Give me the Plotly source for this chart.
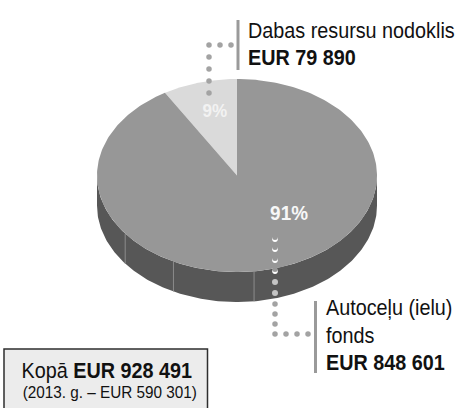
import numpy as np
import plotly.graph_objects as go

# ---- data ----
labels = ["Dabas resursu nodoklis", "Autoceļu (ielu) fonds"]
values = [79890, 848601]
label_lines = [["Dabas resursu nodoklis"], ["Autoceļu (ielu)", "fonds"]]
prior_year = "2013"
prior_total = 590301
top_colors = ["#dadada", "#979797"]
side_color = "#575757"
seam_angles = [173, 207, 233]  # decorative seams on the side wall (deg, clockwise from top)

W, H = 457, 408
cx, cy, a, b, depth = 237, 175.5, 140, 96.5, 30
FONT = "Liberation Sans, Arial, sans-serif"

total = sum(values)


def fmt(v):
    return f"{v:,}".replace(",", " ")


def pt(theta_deg, dy=0.0):
    t = np.radians(theta_deg)
    return cx + a * np.sin(t), cy - b * np.cos(t) + dy


fig = go.Figure()

# side wall (front half of the cylinder)
th = np.linspace(90, 270, 200)
xs_top, ys_top = pt(th)
xs_bot, ys_bot = pt(th[::-1], depth)
fig.add_trace(go.Scatter(x=np.r_[xs_top, xs_bot], y=np.r_[ys_top, ys_bot], fill="toself",
                         fillcolor=side_color, line=dict(width=0), mode="lines", hoverinfo="skip"))
for s in seam_angles:
    x0, y0 = pt(s)
    x1, y1 = pt(s, depth)
    fig.add_trace(go.Scatter(x=[x0, x1], y=[y0, y1], mode="lines",
                             line=dict(color="#8c8c8c", width=1), hoverinfo="skip"))

# top face slices: first slice goes counter-clockwise from 12 o'clock
start = 0.0
for i, v in enumerate(values):
    sweep = 360.0 * v / total
    t0, t1 = start - sweep, start
    th = np.linspace(t0, t1, 300)
    xs, ys = pt(th)
    fig.add_trace(go.Scatter(x=np.r_[cx, xs, cx], y=np.r_[cy, ys, cy], fill="toself",
                             fillcolor=top_colors[i], line=dict(width=0), mode="lines",
                             hoverinfo="skip"))
    start = t0

# percent labels
pcts = [round(100 * v / total) for v in values]
fig.add_annotation(x=215, y=110, text=f"<b>{pcts[0]}%</b>", showarrow=False,
                   font=dict(family=FONT, size=19, color="#f2f2f2"), xanchor="center", yanchor="middle")
fig.add_annotation(x=289, y=212.5, text=f"<b>{pcts[1]}%</b>", showarrow=False,
                   font=dict(family=FONT, size=21, color="#f7f7f7"), xanchor="center", yanchor="middle")

# dotted leader lines
dot_grey = "#a3a3a3"
top_dots_x = [231, 220, 209, 209, 209, 209, 209]
top_dots_y = [45, 45, 45, 57, 69, 81, 93]
fig.add_trace(go.Scatter(x=top_dots_x, y=top_dots_y, mode="markers",
                         marker=dict(size=5.5, color=dot_grey), hoverinfo="skip"))
face_y = [238, 248, 259, 270]
fig.add_trace(go.Scatter(x=[275] * 4, y=[y + 1.3 for y in face_y], mode="markers",
                         marker=dict(size=5.5, color="#ffffff"), hoverinfo="skip"))
fig.add_trace(go.Scatter(x=[275] * 4, y=[y - 0.4 for y in face_y], mode="markers",
                         marker=dict(size=5, color=top_colors[1]), hoverinfo="skip"))
fig.add_trace(go.Scatter(x=[275, 275], y=[282, 293], mode="markers",
                         marker=dict(size=6, color="#c4c4c4"), hoverinfo="skip"))
fig.add_trace(go.Scatter(x=[275, 275, 275, 275, 286, 297, 308], y=[304, 314, 324, 334, 334, 334, 334],
                         mode="markers", marker=dict(size=5.5, color=dot_grey), hoverinfo="skip"))

# label bars and total box
shapes = [
    dict(type="line", x0=238, x1=238, y0=20, y1=70, line=dict(color="#9a9a9a", width=3)),
    dict(type="line", x0=315.5, x1=315.5, y0=301, y1=373, line=dict(color="#9a9a9a", width=3)),
    dict(type="rect", x0=4, x1=207.5, y0=349, y1=412, line=dict(color="#2e2e2e", width=1.5),
         fillcolor="#ececec"),
]


def left_text(x, y, text, size=22):
    fig.add_annotation(x=x, y=y, text=text, showarrow=False, xanchor="left", yanchor="middle",
                       align="left", font=dict(family=FONT, size=size, color="#111"))


left_text(246, 30, label_lines[0][0])
left_text(246, 57, f"<b>EUR {fmt(values[0])}</b>")
left_text(324, 307, label_lines[1][0])
left_text(324, 335, label_lines[1][1])
left_text(324, 362, f"<b>EUR {fmt(values[1])}</b>")

fig.add_annotation(x=106.5, y=370, text=f"Kopā <b>EUR {fmt(total)}</b>", showarrow=False,
                   xanchor="center", yanchor="middle", font=dict(family=FONT, size=22, color="#111"))
fig.add_annotation(x=110, y=392, text=f"({prior_year}. g. – EUR {fmt(prior_total)})", showarrow=False,
                   xanchor="center", yanchor="middle", font=dict(family=FONT, size=17, color="#111"))

fig.update_layout(
    width=W, height=H, margin=dict(l=0, r=0, t=0, b=0),
    paper_bgcolor="white", plot_bgcolor="white", showlegend=False, shapes=shapes,
    xaxis=dict(range=[0, W], visible=False, fixedrange=True),
    yaxis=dict(range=[H, 0], visible=False, fixedrange=True),
)

# remove default page margin and condense the (narrow-style) typography horizontally
post = """
document.body.style.margin = '0';
var gd = document.getElementById('{plot_id}');
gd.querySelectorAll('text.annotation-text').forEach(function (t) {
  var bb = t.getBBox();
  var anc = t.getAttribute('text-anchor');
  var ox = (anc === 'start') ? bb.x : (anc === 'end' ? bb.x + bb.width : bb.x + bb.width / 2);
  var prev = t.getAttribute('transform') || '';
  t.setAttribute('transform', prev + ' translate(' + ox + ',0) scale(0.9,1) translate(' + (-ox) + ',0)');
});
"""
fig.write_html("out.html", post_script=post, config={"displayModeBar": False, "staticPlot": True})
